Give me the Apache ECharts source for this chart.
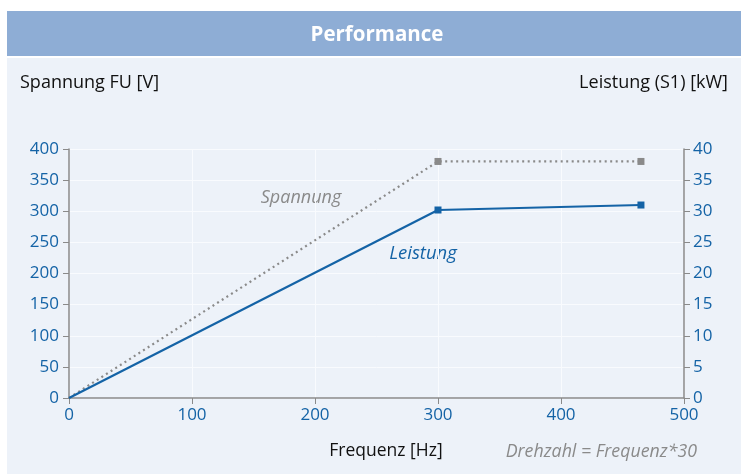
<!DOCTYPE html>
<html>
<head>
<meta charset="utf-8">
<script src="https://cdn.jsdelivr.net/npm/echarts@6/dist/echarts.min.js"></script>
<style>
html,body{margin:0;padding:0;background:#fff;}
#c{width:741px;height:474px;}
</style>
</head>
<body>
<div id="c"></div>
<script>
const freq = [0, 300, 465];
const spannung = [0, 380, 380];
const leistung = [0, 30.2, 31.0];
const xTicks = [0, 100, 200, 300, 400, 500];

const FONT = '"Open Sans", "Noto Sans", sans-serif';
const BLUE = '#1463a6';
const GRAY = '#8a8a8a';

const chart = echarts.init(document.getElementById('c'), null, {renderer: 'canvas'});

function mk(xs, ys) {
  return xs.map((x, i) => ({value: [x, ys[i]], symbol: i === 0 ? 'none' : 'rect'}));
}

chart.setOption({
  animation: false,
  backgroundColor: '#ffffff',
  textStyle: {fontFamily: FONT},
  graphic: [
    {type: 'rect', z: -10, shape: {x: 7, y: 11, width: 734, height: 45}, style: {fill: '#8eadd5'}},
    {type: 'rect', z: -10, shape: {x: 7, y: 58, width: 734, height: 416}, style: {fill: '#edf2f9'}},
    {type: 'text', x: 377, y: 35, style: {text: 'Performance', fill: '#ffffff', font: 'bold 20.5px ' + FONT, textAlign: 'center', textVerticalAlign: 'middle'}},
    {type: 'text', x: 20, y: 83, style: {text: 'Spannung FU [V]', fill: '#111', font: '18px ' + FONT, textVerticalAlign: 'middle'}},
    {type: 'text', x: 728, y: 83, style: {text: 'Leistung (S1) [kW]', fill: '#111', font: '18px ' + FONT, textAlign: 'right', textVerticalAlign: 'middle'}},
    {type: 'text', x: 386, y: 451, style: {text: 'Frequenz [Hz]', fill: '#111', font: '17.5px ' + FONT, textAlign: 'center', textVerticalAlign: 'middle'}},
    {type: 'text', x: 697, y: 452, style: {text: 'Drehzahl = Frequenz*30', fill: GRAY, font: 'italic 17.8px ' + FONT, textAlign: 'right', textVerticalAlign: 'middle'}},
    {type: 'text', x: 301, y: 198, style: {text: 'Spannung', fill: GRAY, font: 'italic 18px ' + FONT, textAlign: 'center', textVerticalAlign: 'middle'}},
    {type: 'text', x: 423, y: 254, style: {text: 'Leistung', fill: BLUE, font: 'italic 18.5px ' + FONT, textAlign: 'center', textVerticalAlign: 'middle'}}
  ],
  grid: {left: 69, right: 57, top: 149, bottom: 76, containLabel: false},
  xAxis: {
    type: 'value', min: 0, max: 500, interval: 100,
    axisLine: {show: true, lineStyle: {color: GRAY, width: 1.5}},
    axisTick: {show: true, length: 6, lineStyle: {color: GRAY}},
    axisLabel: {color: BLUE, fontSize: 17, margin: 9, fontFamily: FONT},
    splitLine: {show: true, lineStyle: {color: '#f9fbfe', width: 1}}
  },
  yAxis: [
    {
      type: 'value', min: 0, max: 400, interval: 50, position: 'left',
      axisLine: {show: true, lineStyle: {color: GRAY, width: 1.5}},
      axisTick: {show: true, length: 6, lineStyle: {color: GRAY}},
      axisLabel: {color: BLUE, fontSize: 17, margin: 10, fontFamily: FONT},
      splitLine: {show: true, lineStyle: {color: '#f9fbfe', width: 1}}
    },
    {
      type: 'value', min: 0, max: 40, interval: 5, position: 'right',
      axisLine: {show: true, lineStyle: {color: GRAY, width: 1.5}},
      axisTick: {show: true, length: 6, lineStyle: {color: GRAY}},
      axisLabel: {color: BLUE, fontSize: 17, margin: 9, fontFamily: FONT},
      splitLine: {show: false}
    }
  ],
  series: [
    {
      name: 'Spannung', type: 'line', yAxisIndex: 0,
      data: mk(freq, spannung),
      symbolSize: 7,
      lineStyle: {color: GRAY, width: 2.2, type: [2, 3.5]},
      itemStyle: {color: GRAY},
      z: 3
    },
    {
      name: 'Leistung', type: 'line', yAxisIndex: 1,
      data: mk(freq, leistung),
      symbolSize: 7,
      lineStyle: {color: BLUE, width: 2.2},
      itemStyle: {color: BLUE},
      z: 4
    }
  ]
});
</script>
</body>
</html>
